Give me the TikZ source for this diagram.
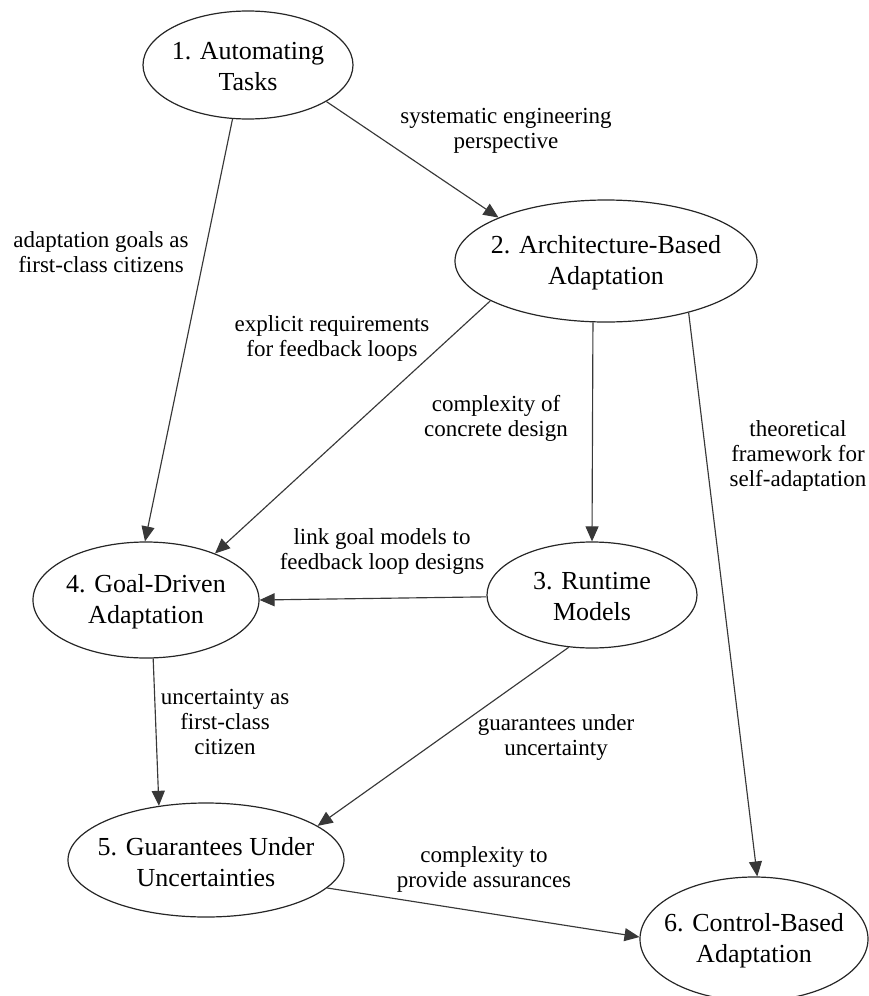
\documentclass[tikz,border=0pt]{standalone}
\usepackage{fontspec}
\setmainfont{Liberation Serif}
\usetikzlibrary{arrows.meta,shapes.geometric}

\begin{document}
\begin{tikzpicture}[x=1pt,y=-1pt,
  state/.style={ellipse, draw=black!85, line width=1.2pt, inner sep=0pt},
  nodetext/.style={font=\fontsize{26}{31}\selectfont, align=center, inner sep=0pt, yshift=-2pt},
  edgelabel/.style={font=\fontsize{23}{25}\selectfont, align=center, inner sep=0pt},
  link/.style={draw=black!78, line width=1.15pt, -{Triangle[length=15pt,width=13pt]}},
]
\useasboundingbox (0,0) rectangle (869,996);

% topics
\node[state, minimum width=210pt, minimum height=108pt,
      label={[nodetext]center:1. Automating\\Tasks}] (n1) at (248,65) {};
\node[state, minimum width=302pt, minimum height=122pt,
      label={[nodetext]center:2. Architecture-Based\\Adaptation}] (n2) at (606,261) {};
\node[state, minimum width=210pt, minimum height=106pt,
      label={[nodetext]center:3. Runtime\\Models}] (n3) at (592,595) {};
\node[state, minimum width=226pt, minimum height=116pt,
      label={[nodetext]center:4. Goal-Driven\\Adaptation}] (n4) at (146,600) {};
\node[state, minimum width=276pt, minimum height=114pt,
      label={[nodetext]center:5. Guarantees Under\\Uncertainties}] (n5) at (206,860) {};
\node[state, minimum width=228pt, minimum height=124pt,
      label={[nodetext]center:6. Control-Based\\Adaptation}] (n6) at (754,939) {};

% relations between topics
\draw[link] (n1.-25.7) -- (n2.158);
\draw[link] (n1.-106.8) -- (n4.91);
\draw[link] (n2.199.9) -- (n4.34.3);
\draw[link] (n2.-102.9) -- (n3.90);
\draw[link] (n2.-32.9) -- (n6.87.2);
\draw[link] (n3.181.6) -- (n4.0);
\draw[link] (n4.-83.1) -- (n5.131.1);
\draw[link] (n3.-114.4) -- (n5.17.5);
\draw[link] (n5.-13.9) -- (n6.179);

% relation labels
\node[edgelabel] (l12) at (506,131) {systematic engineering\\perspective};
\node[edgelabel] (l14) at (101,252) {adaptation goals as\\first-class citizens};
\node[edgelabel] (l24) at (332,338) {explicit requirements\\for feedback loops};
\node[edgelabel] (l23) at (496,418) {complexity of\\concrete design};
\node[edgelabel] (l26) at (798,456) {theoretical\\framework for\\self-adaptation};
\node[edgelabel] (l34) at (382,551) {link goal models to\\feedback loop designs};
\node[edgelabel] (l45) at (225,722) {uncertainty as\\first-class\\citizen};
\node[edgelabel] (l35) at (556,737) {guarantees under\\uncertainty};
\node[edgelabel] (l56) at (484,869) {complexity to\\provide assurances};
\end{tikzpicture}
\end{document}
